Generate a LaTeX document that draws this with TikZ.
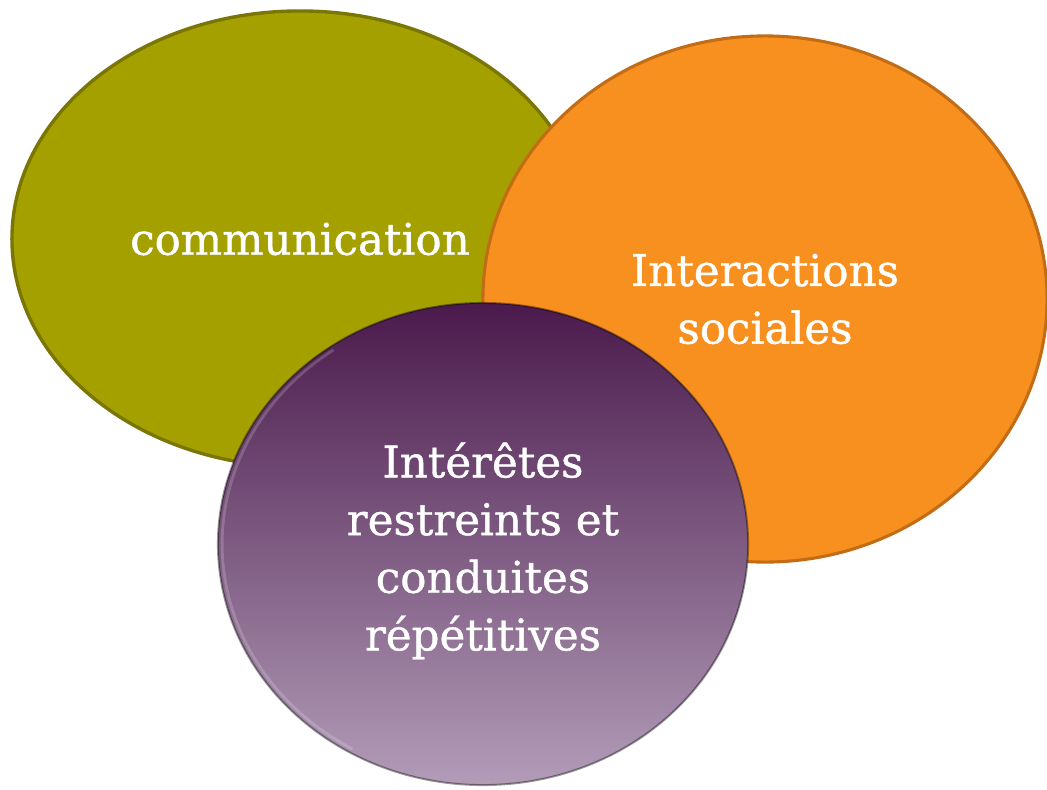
\documentclass[tikz,border=0pt]{standalone}
\usepackage{fontspec}
\setmainfont{DejaVu Serif}
\newfontfamily\labelfont{DejaVu Serif}[BoldFont={DejaVu Serif}, BoldFeatures={FakeBold=0.9}]
\usetikzlibrary{shapes.geometric}

\definecolor{olivefill}{HTML}{A4A000}
\definecolor{oliveline}{HTML}{7A7606}
\definecolor{orangefill}{HTML}{F7901F}
\definecolor{orangeline}{HTML}{C26C16}
\definecolor{plumtop}{HTML}{4A1A4C}
\definecolor{plumbottom}{HTML}{B29CB8}

\begin{document}
\begin{tikzpicture}[x=0.025cm, y=-0.025cm, every node/.style={ellipse, inner sep=0pt, align=center, text=white, font=\labelfont\bfseries\fontsize{31}{41}\selectfont}]
    \useasboundingbox (0,0) rectangle (1047,790);

    % Circles
    \node (com) at (300,239) [{draw=oliveline, line width=2.4pt, fill=olivefill, minimum width=14.4cm, minimum height=11.4cm}] {communication};
    \node (soc) at (765,299) [{draw=orangeline, line width=2.2pt, fill=orangefill, minimum width=14.1cm, minimum height=13.15cm}] {Interactions\\sociales};
    \node (rep) at (483,544) [{top color=plumtop, bottom color=plumbottom, draw=black, draw opacity=0.4, line width=1.4pt, minimum width=13.25cm, minimum height=12.05cm}] {};

    % Light rim on the left of the purple circle
    \draw[white, opacity=0.18, line width=2pt] (rep.center) ++(240:6.52cm and 5.92cm) arc[start angle=240, end angle=125, x radius=6.52cm, y radius=5.92cm];

    % Text of the purple circle
    \node (reptext) at (483,551) {Intérêtes\\restreints et\\conduites\\répétitives};

\end{tikzpicture}
\end{document}
